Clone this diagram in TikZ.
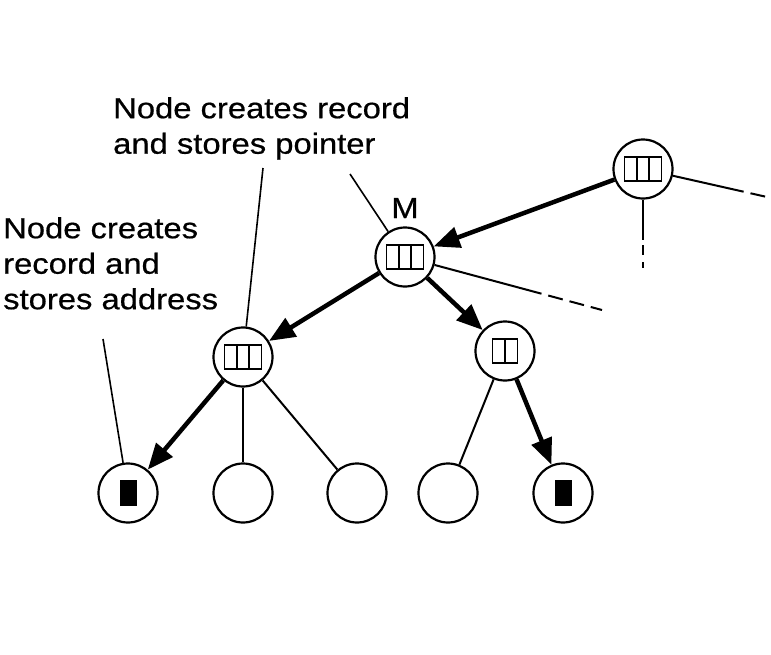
\documentclass[tikz,border=0pt]{standalone}
\usepackage{fontspec}
\setmainfont{Liberation Sans}[FakeStretch=1.13, FakeBold=0.6]
\usetikzlibrary{arrows.meta,calc}
\tikzset{
  tn/.style={circle, draw, line width=2.2pt, minimum size=59pt, inner sep=0pt},
  r3/.style={path picture={
    \draw[line width=1.6pt] ($(path picture bounding box.center)+(-18.5,-12)$) rectangle ($(path picture bounding box.center)+(18.5,12)$);
    \draw[line width=1.6pt] ($(path picture bounding box.center)+(-6.2,-12)$) -- ($(path picture bounding box.center)+(-6.2,12)$);
    \draw[line width=1.6pt] ($(path picture bounding box.center)+(6.2,-12)$) -- ($(path picture bounding box.center)+(6.2,12)$);
  }},
  r2/.style={path picture={
    \draw[line width=1.6pt] ($(path picture bounding box.center)+(-12.5,-12)$) rectangle ($(path picture bounding box.center)+(12.5,12)$);
    \draw[line width=1.6pt] ($(path picture bounding box.center)+(0,-12)$) -- ($(path picture bounding box.center)+(0,12)$);
  }},
  rf/.style={path picture={
    \fill ($(path picture bounding box.center)+(-8.5,-13)$) rectangle ($(path picture bounding box.center)+(8.5,13)$);
  }},
  ptr/.style={line width=4.5pt, -{Triangle[length=26pt,width=21pt]}},
  edge/.style={line width=2pt},
  dsh/.style={line width=2pt, dash pattern=on 15pt off 7pt},
  lbl/.style={font={\fontsize{29}{35.5}\selectfont}, inner sep=0pt, align=left},
  ann/.style={line width=1.6pt}
}
\begin{document}
\begin{tikzpicture}[x=1pt,y=-1pt]
\useasboundingbox (0,0) rectangle (771,654);
% nodes
\node[tn,r3] (tr) at (643,169) {};
\node[tn,r3] (m) at (405,257) {};
\node[tn,r3] (l) at (243,357) {};
\node[tn,r2] (r) at (505,351) {};
\node[tn,rf] (a) at (128,493) {};
\node[tn] (b) at (243,493) {};
\node[tn] (c) at (357,493) {};
\node[tn] (d) at (448,493) {};
\node[tn,rf] (e) at (563,493) {};
% labels
\node[lbl, anchor=north west] (t1) at (113,97) {Node creates record\\and stores pointer};
\node[lbl, anchor=north west] (t2) at (3,217) {Node creates\\record and\\stores address};
\node[font={\fontsize{29}{35}\selectfont}, inner sep=0pt, anchor=base] (ml) at (405,218) {M};
% annotation lines
\coordinate (p1) at (263,168);
\coordinate (p2) at (350,174);
\coordinate (p3) at (103,339);
\draw[ann] (p1) -- (l);
\draw[ann] (p2) -- (m);
\draw[ann] (p3) -- (a);
% pointers
\draw[ptr] (tr) -- (m);
\draw[ptr] (m) -- (l);
\draw[ptr] (m) -- (r);
\draw[ptr] (l) -- (a);
\draw[ptr] (r) -- (e);
% tree edges
\draw[edge] (l) -- (b);
\draw[edge] (l) -- (c);
\draw[edge] (r) -- (d);
% dashed continuations
\coordinate (q1) at (729,188.4);
\coordinate (q1e) at (767,197);
\draw[edge] (tr) -- (q1);
\draw[dsh] (q1) -- (q1e);
\coordinate (q2) at (643,240);
\coordinate (q2e) at (643,268);
\draw[edge] (tr) -- (q2);
\draw[dsh, dash pattern=on 10pt off 7pt] (q2) ++(0,5) -- (q2e);
\coordinate (q3) at (527,289.8);
\coordinate (q3e) at (602,310);
\draw[edge] (m) -- (q3);
\draw[dsh] (q3) -- (q3e);
\end{tikzpicture}
\end{document}
